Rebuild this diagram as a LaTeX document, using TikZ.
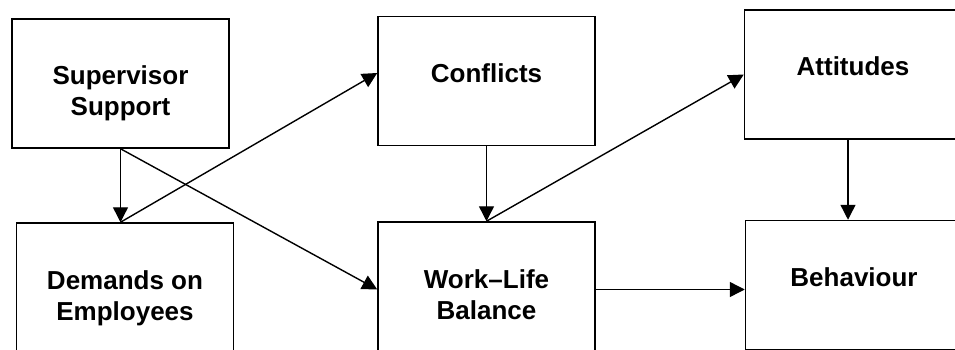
\documentclass[tikz,border=0pt]{standalone}
\usepackage{fontspec}
\setmainfont{Liberation Sans}
\usetikzlibrary{arrows.meta}
\newcommand{\factortext}[1]{\parbox[c][129pt][t]{217pt}{\centering\rule{0pt}{66pt}#1}} % text hangs from the top of the box
\tikzset{
x=1pt, y=-1pt, % one unit is one pixel of the reference
>={Triangle[length=15pt,width=15pt]}, % filled triangle heads
factor/.style={draw, line width=1.5pt, inner sep=0pt, font=\fontsize{26}{31}\selectfont\bfseries}, % the boxes
link/.style={->, line width=1.4pt}, % the connectors
}
\begin{document}
\begin{tikzpicture}
\clip (0,0) rectangle (955,350);

\node[factor] (supervisor) at (120.5,83.5) {\factortext{Supervisor\\Support}};
\node[factor] (demands) at (125,287.5) {\factortext{Demands on\\Employees}};
\node[factor] (conflicts) at (486.5,81) {\factortext{Conflicts}};
\node[factor] (balance) at (486.5,286.5) {\factortext{Work--Life\\Balance}};
\node[factor] (attitudes) at (853,74.5) {\factortext{Attitudes}};
\node[factor] (behaviour) at (854,285) {\factortext{Behaviour}};

\coordinate (demtop) at (supervisor.south |- demands.north);
\draw[link] (supervisor.south) -- (demtop);
\draw[link] (supervisor.south) -- ([yshift=-3pt]balance.west);
\draw[link] (demtop) -- ([yshift=8pt]conflicts.west);
\draw[link] (conflicts.south) -- (conflicts.south |- balance.north);
\draw[link] (conflicts.south |- balance.north) -- (attitudes.west);
\draw[link] ([xshift=-5pt]attitudes.south) -- ([xshift=-5pt]attitudes.south |- behaviour.north);
\draw[link] ([yshift=-3pt]balance.east) -- ([yshift=-3pt]balance.east -| behaviour.west);
\end{tikzpicture}
\end{document}
